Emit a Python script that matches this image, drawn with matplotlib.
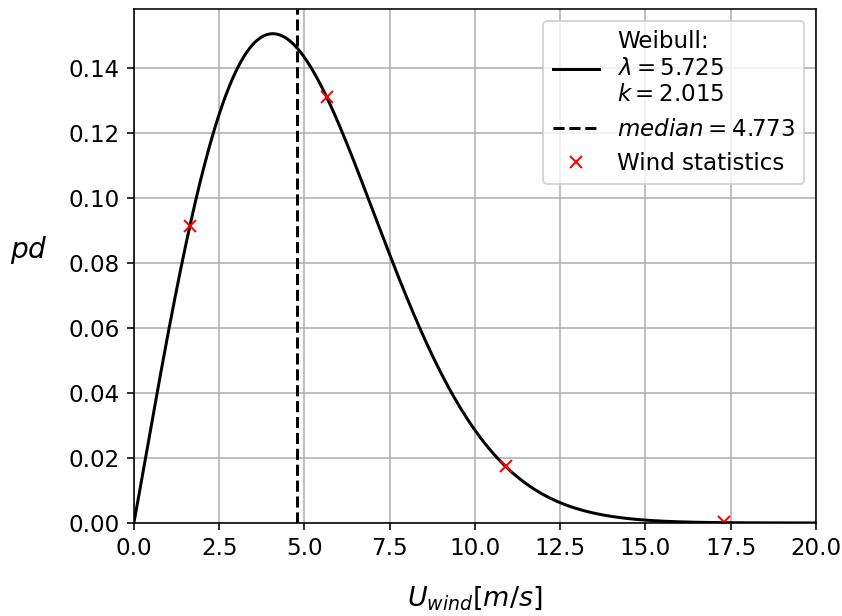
import numpy as np
import matplotlib.pyplot as plt

# Weibull fit parameters (from legend)
lam = 5.725
k = 2.015
median = 4.773

# wind statistics points
wind_u = [1.65, 5.66, 10.9, 17.3]
wind_pd = [0.0915, 0.131, 0.0175, 0.0002]

u = np.linspace(0.0, 20.0, 600)
pd = (k / lam) * (u / lam) ** (k - 1) * np.exp(-(u / lam) ** k)

fig, ax = plt.subplots(figsize=(842 / 144, 616 / 144), dpi=144)
fig.subplots_adjust(left=0.159, right=0.969, bottom=0.151, top=0.985)

ax.plot(u, pd, color="black",
        label="Weibull:\n$\\lambda = 5.725$\n$k = 2.015$")
ax.axvline(median, color="black", linestyle="--",
           label="$median = 4.773$")
ax.plot(wind_u, wind_pd, "rx", label="Wind statistics")

ax.set_xlim(0, 20)
ax.set_ylim(bottom=0)
ax.grid(True)
ax.tick_params(labelsize=11.5)

ax.set_xlabel("$U_{wind} [m/s]$", fontsize=13.5, labelpad=12)
ax.set_ylabel("$pd$", fontsize=14, rotation=0, labelpad=20)
ax.legend(loc="upper right", fontsize=11.5)

fig.savefig("out.png", dpi=144)
